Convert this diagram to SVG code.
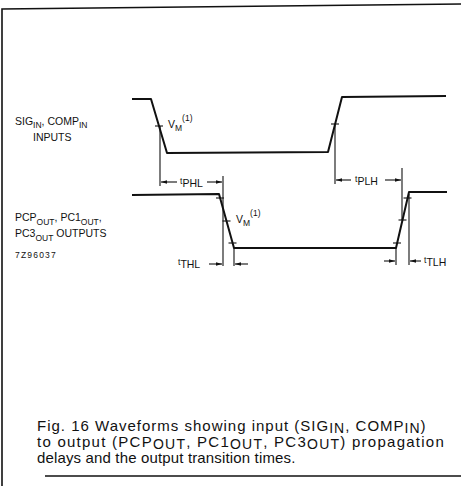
<svg xmlns="http://www.w3.org/2000/svg" width="461" height="486" viewBox="0 0 461 486">
<defs>
<marker id="ah" viewBox="0 0 10 6" refX="10" refY="3" markerWidth="6" markerHeight="4" markerUnits="userSpaceOnUse" orient="auto">
<path d="M0,0 L10,3 L0,6 Z" fill="#111"/>
</marker>
</defs>
<style>
.wave{fill:none;stroke:#111;stroke-width:2;stroke-linejoin:round}
.dim{fill:none;stroke:#111;stroke-width:1.1}
.tick{stroke:#111;stroke-width:1.1}
.frame{fill:none;stroke:#111;stroke-width:1.6}
text{font-family:"Liberation Sans",Arial,sans-serif;fill:#111}
.lbl{font-size:10.5px}
.sub{font-size:8.5px}
.t{font-size:8.5px}
.ts{font-size:10.5px}
.cap{font-size:15px}
.capsub{font-size:14px}
</style>
<g id="frame">
<path class="frame" d="M2,486 L2,9 L461,4"/>
<path class="frame" d="M45,476 L461,476"/>
</g>
<g id="input-label">
<text class="lbl" x="15" y="125">SIG<tspan class="sub" dy="3">IN</tspan><tspan dy="-3">, COMP</tspan><tspan class="sub" dy="3">IN</tspan></text>
<text class="lbl" x="33" y="141">INPUTS</text>
</g>
<g id="output-label">
<text class="lbl" x="15" y="221">PCP<tspan class="sub" dy="4">OUT</tspan><tspan dy="-4">, PC1</tspan><tspan class="sub" dy="4">OUT</tspan><tspan dy="-4">,</tspan></text>
<text class="lbl" x="15" y="237">PC3<tspan class="sub" dy="4">OUT</tspan><tspan dy="-4"> OUTPUTS</tspan></text>
<text x="15" y="258" style="font-size:8.5px;letter-spacing:1.2px">7Z96037</text>
</g>
<g id="input-waveform">
<path class="wave" d="M132,99 L151,99 L167,153 L328,152 L342,97 L446,96"/>
<line class="tick" x1="155" y1="126" x2="163" y2="126"/>
<line class="tick" x1="331" y1="124" x2="339" y2="124"/>
<text class="lbl" x="168" y="128">V<tspan class="sub" dy="3">M</tspan><tspan class="t" dy="-10">(1)</tspan></text>
</g>
<g id="output-waveform">
<path class="wave" d="M132,195 L219,194 L234,248 L396,248 L409,192 L447,192"/>
<line class="tick" x1="216" y1="198" x2="224" y2="198"/>
<line class="tick" x1="222.5" y1="221" x2="230.5" y2="221"/>
<line class="tick" x1="228.5" y1="243" x2="236.5" y2="243"/>
<line class="tick" x1="393" y1="243" x2="401" y2="243"/>
<line class="tick" x1="398.5" y1="220" x2="406.5" y2="220"/>
<line class="tick" x1="403.5" y1="198" x2="411.5" y2="198"/>
<text class="lbl" x="236" y="223">V<tspan class="sub" dy="3">M</tspan><tspan class="t" dy="-10">(1)</tspan></text>
</g>
<g id="connectors">
<line class="dim" x1="160" y1="126" x2="160" y2="186"/>
<line class="dim" x1="223" y1="176" x2="223" y2="266"/>
<line class="dim" x1="177" y1="182" x2="161" y2="182" marker-end="url(#ah)"/>
<line class="dim" x1="207" y1="182" x2="222" y2="182" marker-end="url(#ah)"/>
<line class="dim" x1="335" y1="124" x2="335" y2="184"/>
<line class="dim" x1="402" y1="168" x2="402" y2="220"/>
<line class="dim" x1="351" y1="180" x2="336" y2="180" marker-end="url(#ah)"/>
<line class="dim" x1="385" y1="180" x2="401" y2="180" marker-end="url(#ah)"/>
<line class="dim" x1="234" y1="248" x2="234" y2="266"/>
<line class="dim" x1="209" y1="264" x2="222" y2="264" marker-end="url(#ah)"/>
<line class="dim" x1="248" y1="264" x2="235" y2="264" marker-end="url(#ah)"/>
<line class="dim" x1="396" y1="248" x2="396" y2="265"/>
<line class="dim" x1="409" y1="194" x2="409" y2="265"/>
<line class="dim" x1="384" y1="261" x2="395" y2="261" marker-end="url(#ah)"/>
<line class="dim" x1="421" y1="261" x2="410" y2="261" marker-end="url(#ah)"/>
</g>
<g id="timing-labels">
<text class="t" x="180" y="184">t<tspan class="ts" dy="3">PHL</tspan></text>
<text class="t" x="355" y="182">t<tspan class="ts" dy="3">PLH</tspan></text>
<text class="t" x="178" y="265">t<tspan class="ts" dy="3">THL</tspan></text>
<text class="t" x="424" y="263">t<tspan class="ts" dy="3">TLH</tspan></text>
</g>
<g id="caption">
<text class="cap" x="37" y="431" style="letter-spacing:1px">Fig. 16  Waveforms showing input (SIG<tspan class="capsub" dy="2">IN</tspan><tspan dy="-2">, COMP</tspan><tspan class="capsub" dy="2">IN</tspan><tspan dy="-2">)</tspan></text>
<text class="cap" x="37" y="447" style="letter-spacing:1.25px">to output (PCP<tspan class="capsub" dy="2">OUT</tspan><tspan dy="-2">, PC1</tspan><tspan class="capsub" dy="2">OUT</tspan><tspan dy="-2">, PC3</tspan><tspan class="capsub" dy="2">OUT</tspan><tspan dy="-2">) propagation</tspan></text>
<text class="cap" x="37" y="463" style="letter-spacing:0.15px">delays and the output transition times.</text>
</g>
</svg>
